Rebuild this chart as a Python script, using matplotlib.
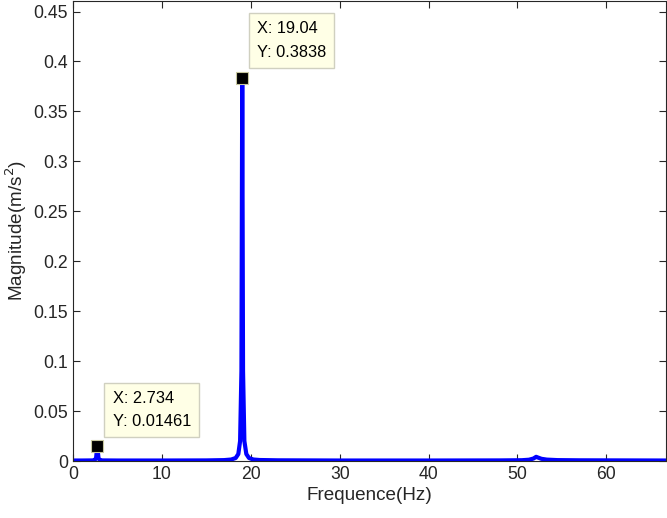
import numpy as np
import matplotlib.pyplot as plt

plt.rcParams['font.family'] = ['Liberation Sans', 'DejaVu Sans']

# spectrum points (Hz, m/s^2)
freq = [0.0, 1.0, 2.2, 2.45, 2.6, 2.734, 2.87, 3.0, 3.3, 5.0, 10.0, 15.0, 17.0,
        17.8, 18.3, 18.6, 18.8, 18.95, 19.04, 19.13, 19.28, 19.5, 19.8, 20.3,
        21.0, 23.0, 30.0, 40.0, 48.0, 50.5, 51.3, 51.8, 52.1, 52.3, 52.7, 53.3,
        54.5, 57.0, 62.0, 66.7]
mag = [0.0005, 0.0005, 0.0006, 0.001, 0.003, 0.01461, 0.003, 0.001, 0.0006,
       0.0005, 0.0005, 0.0006, 0.0009, 0.0015, 0.003, 0.007, 0.02, 0.09,
       0.3838, 0.09, 0.02, 0.007, 0.003, 0.0015, 0.001, 0.0007, 0.0005,
       0.0005, 0.0006, 0.0008, 0.0013, 0.0025, 0.0042, 0.0035, 0.0022, 0.0014,
       0.0009, 0.0007, 0.0006, 0.0005]

tips = [(19.04, 0.3838), (2.734, 0.01461)]
tip_text_pos = [(20.7, 0.421), (4.45, 0.051)]

fig = plt.figure(figsize=(6.67, 5.18), dpi=100)
ax = fig.add_axes([0.1094, 0.110, 0.889, 0.889])

ax.plot(freq, mag, color='#0000ff', linewidth=3.0, solid_joinstyle='round')

for (x, y), (tx, ty) in zip(tips, tip_text_pos):
    ax.plot(x, y, marker='s', markersize=9, color='black',
            markeredgecolor='#c8c8a0', markeredgewidth=0.8, zorder=5)
    ax.text(tx, ty, 'X: %g\nY: %g' % (x, y), fontsize=11.8, va='center',
            ha='left', linespacing=1.68, zorder=6,
            bbox=dict(boxstyle='square,pad=0.5', facecolor='#ffffe6',
                      edgecolor='#d0d0c0', linewidth=1.0))

ax.set_xlim(0, 66.7)
ax.set_ylim(0, 0.461)
ax.set_xticks(np.arange(0, 61, 10))
ax.set_yticks(np.arange(0, 0.451, 0.05))
ax.set_yticklabels(['0', '0.05', '0.1', '0.15', '0.2', '0.25', '0.3', '0.35',
                    '0.4', '0.45'])
ax.tick_params(direction='in', top=True, right=True, length=5, width=0.8,
               labelsize=12.7, colors='#262626')
for s in ax.spines.values():
    s.set_color('#262626')
    s.set_linewidth(0.8)

ax.set_xlabel('Frequence(Hz)', fontsize=13.6, color='#262626', labelpad=3)
ax.set_ylabel('Magnitude(m/s$^2$)', fontsize=13.6, color='#262626', labelpad=3)

fig.savefig('out.png', dpi=100)
